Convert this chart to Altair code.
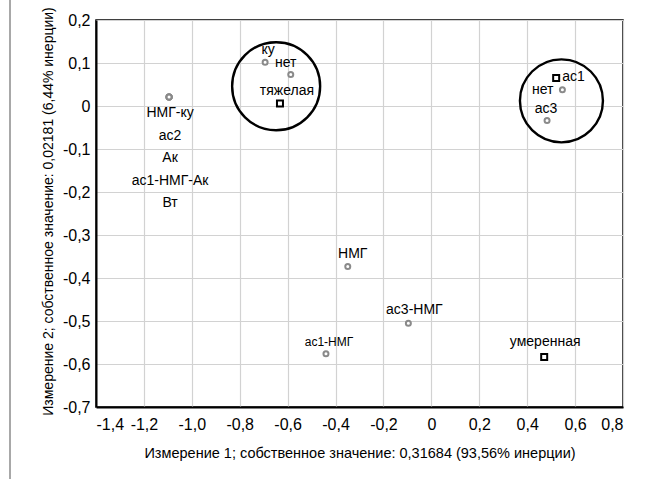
import altair as alt
import pandas as pd

# ---- data ----
labels = ["НМГ-ку", "ас2", "Ак", "ас1-НМГ-Ак", "Вт", "ку", "нет", "тяжелая",
          "ас1", "нет ", "ас3", "НМГ", "ас3-НМГ", "ас1-НМГ", "умеренная"]
dim1 = [-1.095, -1.095, -1.095, -1.095, -1.095, -0.694, -0.587, -0.632,
        0.521, 0.547, 0.483, -0.349, -0.096, -0.440, 0.471]
dim2 = [0.021, 0.021, 0.021, 0.021, 0.021, 0.102, 0.073, 0.006,
        0.065, 0.038, -0.034, -0.373, -0.505, -0.576, -0.584]
kind = ["col", "col", "col", "col", "col", "col", "col", "row",
        "row", "col", "col", "col", "col", "col", "row"]

# circled clusters (centre in data units, diameter in px)
cluster_x = [-0.648, 0.543]
cluster_y = [0.046, 0.012]
cluster_d = [88, 83]

x_ticks = [-1.4, -1.2, -1.0, -0.8, -0.6, -0.4, -0.2, 0, 0.2, 0.4, 0.6, 0.8]
y_ticks = [0.2, 0.1, 0, -0.1, -0.2, -0.3, -0.4, -0.5, -0.6, -0.7]

x_title = "Измерение 1; собственное значение: 0,31684 (93,56% инерции)"
y_title = "Измерение 2; собственное значение: 0,02181 (6,44% инерции)"

# label placement (styling, kept apart from the data)
label_style = {
    "НМГ-ку": dict(dx=1, dy=16), "ас2": dict(dx=1, dy=39), "Ак": dict(dx=1, dy=61),
    "ас1-НМГ-Ак": dict(dx=1, dy=84), "Вт": dict(dx=1, dy=106),
    "ку": dict(dx=3, dy=-12), "нет": dict(dx=-5, dy=-12),
    "тяжелая": dict(dx=7, dy=-12), "ас1": dict(dx=6, dy=-1, align="left"),
    "нет ": dict(dx=-9, dy=0, align="right"), "ас3": dict(dx=-1, dy=-12),
    "НМГ": dict(dx=5, dy=-12), "ас3-НМГ": dict(dx=6, dy=-13),
    "ас1-НМГ": dict(dx=3, dy=-12, size=12), "умеренная": dict(dx=1, dy=-15),
}

FONT = "Liberation Sans"

df = pd.DataFrame({"label": labels, "d1": dim1, "d2": dim2, "kind": kind})
cl = pd.DataFrame({"cx": cluster_x, "cy": cluster_y, "d": cluster_d})

xs = alt.Scale(domain=[-1.4, 0.8], nice=False, zero=False)
ys = alt.Scale(domain=[-0.7, 0.2], nice=False, zero=False)

fmt_expr = ("abs(datum.value) < 1e-9 ? '0' : "
            "replace(replace(format(datum.value, '.1f'), '.', ','), '\u2212', '-')")

X = alt.X("d1:Q", scale=xs, title=x_title,
          axis=alt.Axis(values=x_ticks, labelExpr=fmt_expr, titleY=46,
                        titleBaseline="middle", labelOverlap=False))
Y = alt.Y("d2:Q", scale=ys, title=y_title,
          axis=alt.Axis(values=y_ticks, labelExpr=fmt_expr, titleX=-48,
                        titleY=191, titleBaseline="middle", labelOverlap=False))

base = alt.Chart(df)

circles = base.transform_filter(alt.datum.kind == "col").mark_point(
    shape="circle", size=25, filled=False, fill="white", fillOpacity=1,
    stroke="#8a8a8a", strokeWidth=2, opacity=1
).encode(x=X, y=Y)

squares = base.transform_filter(alt.datum.kind == "row").mark_point(
    shape="square", size=36, filled=False, fill="white", fillOpacity=1,
    stroke="black", strokeWidth=2, opacity=1
).encode(x=X, y=Y)

rings = alt.Chart(cl).mark_point(
    shape="circle", filled=False, stroke="black", strokeWidth=2.4, opacity=1
).encode(
    x=alt.X("cx:Q", scale=xs),
    y=alt.Y("cy:Q", scale=ys),
    size=alt.Size("d2:Q", scale=None, legend=None),
).transform_calculate(d2="datum.d * datum.d")

text_layers = []
for lab in labels:
    st = dict(label_style[lab])
    size = st.pop("size", 14)
    align = st.pop("align", "center")
    t = base.transform_filter(alt.datum.label == lab).mark_text(
        font=FONT, fontSize=size, color="black", baseline="middle",
        align=align, **st
    ).encode(x=alt.X("d1:Q", scale=xs), y=alt.Y("d2:Q", scale=ys),
             text="label:N")
    text_layers.append(t)

border = alt.Chart(pd.DataFrame({"a": [0]})).mark_rule(
    color="#a8a8a8", strokeWidth=2
).encode(x=alt.value(-86), y=alt.value(-20), y2=alt.value(459))

chart = alt.layer(border, rings, circles, squares, *text_layers).properties(
    width=527, height=387,
    autosize=alt.AutoSizeParams(type="none"),
    padding={"left": 96, "top": 20, "right": 28, "bottom": 74},
    background="white",
).configure_view(
    stroke="black", strokeWidth=1.5
).configure_axis(
    grid=True, gridColor="#d2d2d2", gridWidth=1.2,
    domainColor="black", domainWidth=2,
    ticks=False, labelFont=FONT, labelFontSize=16, labelColor="black",
    titleFont=FONT, titleFontSize=14.5, titleFontWeight="normal", titleColor="black",
).configure_axisX(labelPadding=9).configure_axisY(labelPadding=6, titleFontSize=14)

chart.save("out.html", embed_options={"renderer": "svg", "actions": False})
